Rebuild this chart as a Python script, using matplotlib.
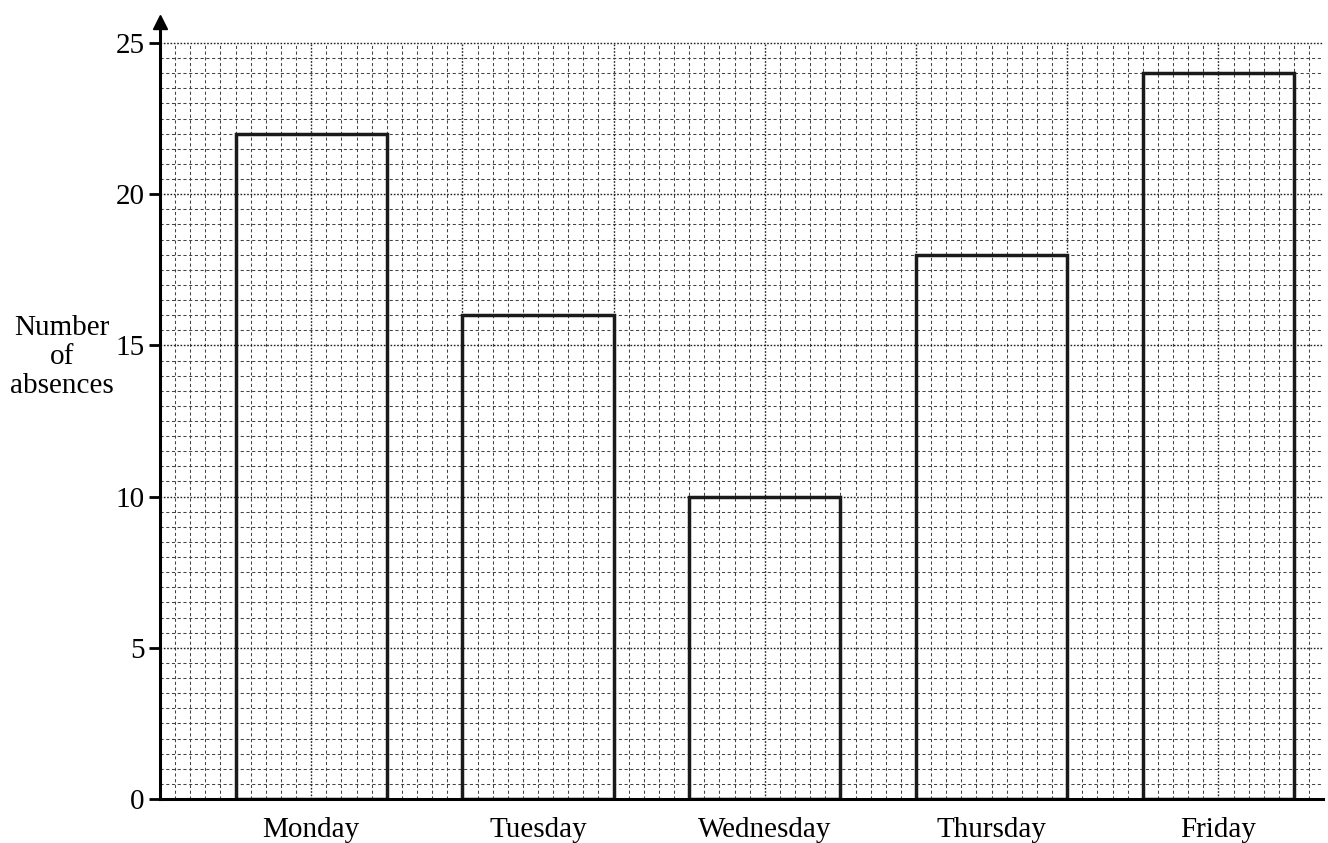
import numpy as np
import matplotlib.pyplot as plt

days = ["Monday", "Tuesday", "Wednesday", "Thursday", "Friday"]
absences = [22, 16, 10, 18, 24]
y_ticks = [0, 5, 10, 15, 20, 25]

plt.rcParams['font.family'] = ['Liberation Serif', 'DejaVu Serif']

W, H = 1328, 843
fig = plt.figure(figsize=(W / 100, H / 100), dpi=100)
ax = fig.add_axes([160 / W, 44 / H, 1163 / W, (799 - 8) / H])
xmax = 1163 / 30.24
ymax = (799 - 8) / 30.24
ax.set_xlim(0, xmax)
ax.set_ylim(0, ymax)

# graph paper
gmax = 25
for x in np.arange(0.5, xmax, 0.5):
    if abs(x % 5) < 1e-9:
        ax.plot([x, x], [0, gmax], color='#222222', lw=1.0, ls=(0, (1.2, 1.2)), zorder=1)
    else:
        ax.plot([x, x], [0, gmax], color='#444444', lw=0.75, ls=(0, (3, 2.5)), zorder=1)
for y in np.arange(0.5, gmax + 0.01, 0.5):
    if abs(y % 5) < 1e-9:
        ax.plot([0, xmax], [y, y], color='#222222', lw=1.0, ls=(0, (1.2, 1.2)), zorder=1)
    else:
        ax.plot([0, xmax], [y, y], color='#444444', lw=0.75, ls=(0, (3, 2.5)), zorder=1)

centers = 5 + 7.5 * np.arange(len(days))
ax.bar(centers, absences, width=5, fill=False, edgecolor='#1a1a1a', linewidth=2.5, zorder=3)

for s in ['top', 'right']:
    ax.spines[s].set_visible(False)
ax.spines['left'].set_bounds(0, ymax - 0.4)
ax.spines['left'].set_linewidth(2.2)
ax.spines['bottom'].set_linewidth(2.2)
ax.spines['left'].set_zorder(4)
ax.spines['bottom'].set_zorder(4)
ax.plot([0], [ymax - 0.45], marker='^', color='black', markersize=10, clip_on=False, zorder=5)

ax.set_yticks(y_ticks)
ax.set_yticklabels([str(v) for v in y_ticks], fontsize=21)
ax.tick_params(axis='y', length=8, width=2, pad=3)
ax.set_xticks(centers)
ax.set_xticklabels(days, fontsize=21)
ax.tick_params(axis='x', length=0, pad=13)

fig.text(62 / W, 1 - 357 / H, "Number\nof\nabsences", fontsize=21, ha='center', va='center',
         multialignment='center', linespacing=1.15)

fig.savefig('out.png', dpi=100)
